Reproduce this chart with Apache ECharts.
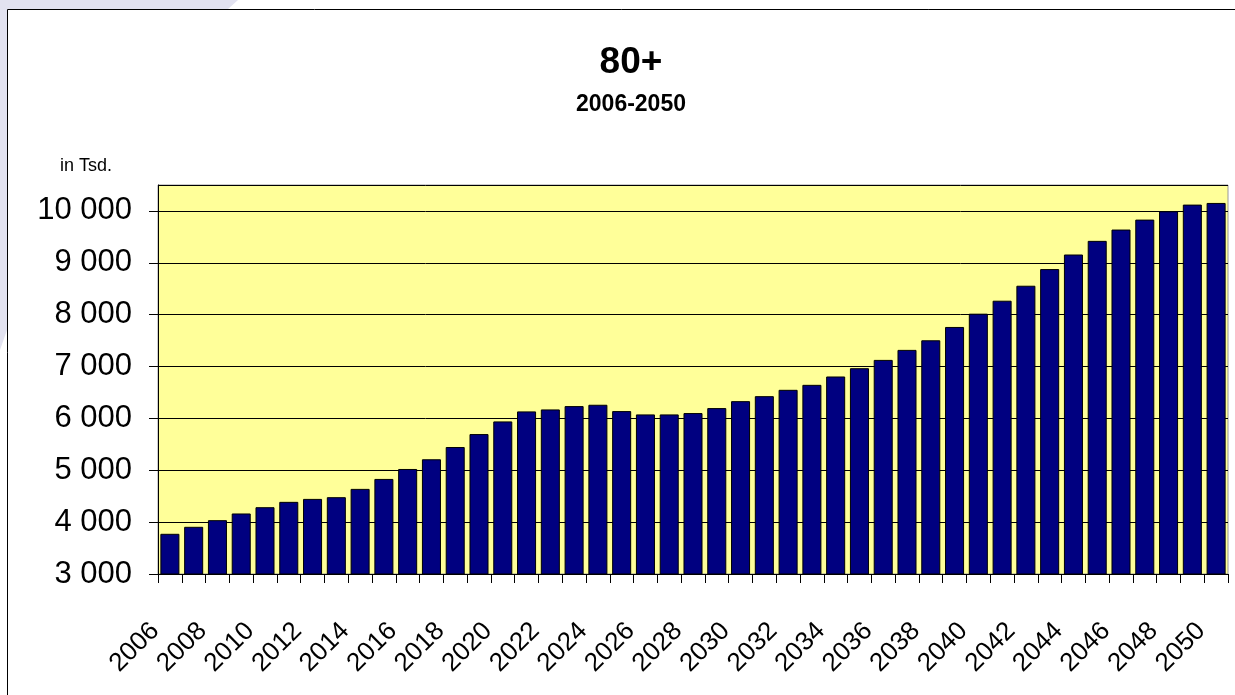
<!DOCTYPE html>
<html>
<head>
<meta charset="utf-8">
<title>80+ 2006-2050</title>
<script src="https://cdn.jsdelivr.net/npm/echarts@6/dist/echarts.min.js"></script>
<style>
  html, body { margin: 0; padding: 0; background: #ffffff; }
  #chart { width: 1235px; height: 695px; }
</style>
</head>
<body>
<div id="chart"></div>
<script>
// categories (years)
var years = [
  "2006", "2007", "2008", "2009", "2010", "2011", "2012", "2013", "2014", "2015",
  "2016", "2017", "2018", "2019", "2020", "2021", "2022", "2023", "2024", "2025",
  "2026", "2027", "2028", "2029", "2030", "2031", "2032", "2033", "2034", "2035",
  "2036", "2037", "2038", "2039", "2040", "2041", "2042", "2043", "2044", "2045",
  "2046", "2047", "2048", "2049", "2050"
];

// persons aged 80+, in thousands
var persons80 = [
  3775, 3910, 4038, 4167, 4288, 4391, 4448, 4481, 4641, 4833,
  5025, 5212, 5448, 5698, 5942, 6135, 6173, 6237, 6263, 6141,
  6077, 6077, 6103, 6199, 6333, 6429, 6551, 6647, 6808, 6968,
  7128, 7321, 7506, 7763, 8019, 8269, 8558, 8879, 9160, 9423,
  9641, 9833, 9994, 10122, 10154
];

var yMin = 3000;
var yMax = 10500;
var yStep = 1000;

var font = "'Liberation Sans', Arial, sans-serif";

function fmtThousands(v) {
  return String(v).replace(/\B(?=(\d{3})+(?!\d))/g, " ");
}

var myChart = echarts.init(document.getElementById("chart"));

var option = {
  backgroundColor: "#ffffff",
  animation: false,
  title: [
    {
      text: "80+",
      left: 626,
      top: 39,
      textAlign: "center",
      textStyle: { fontFamily: font, fontSize: 37, fontWeight: "bold", color: "#000000" }
    },
    {
      text: "2006-2050",
      left: 626,
      top: 88,
      textAlign: "center",
      textStyle: { fontFamily: font, fontSize: 23, fontWeight: "bold", color: "#000000" }
    }
  ],
  graphic: [
    // slide decoration behind the chart frame
    {
      type: "polygon",
      z: -10,
      shape: { points: [[0, 0], [238, 0], [228, 9], [7, 9], [7, 330], [0, 350]] },
      style: { fill: "#e2e2f0" }
    },
    {
      type: "rect",
      z: -5,
      shape: { x: 7.5, y: 9.5, width: 1240, height: 700 },
      style: { fill: "#ffffff", stroke: "#000000", lineWidth: 1 }
    },
    {
      type: "text",
      left: 60,
      top: 157,
      style: { text: "in Tsd.", fontFamily: font, fontSize: 18, fill: "#000000" }
    }
  ],
  grid: {
    left: 158,
    top: 185,
    right: 7,
    bottom: 121,
    show: true,
    backgroundColor: "#ffff99",
    borderColor: "#999999",
    borderWidth: 1
  },
  xAxis: {
    type: "category",
    data: years,
    boundaryGap: true,
    axisLine: { show: true, lineStyle: { color: "#000000", width: 1 } },
    axisTick: {
      show: true,
      interval: 0,
      alignWithLabel: false,
      length: 9,
      lineStyle: { color: "#000000" }
    },
    axisLabel: {
      interval: 1,
      rotate: 45,
      margin: 38,
      padding: [0, 21, 0, 0],
      fontFamily: font,
      fontSize: 26,
      color: "#000000"
    },
    splitLine: { show: false }
  },
  yAxis: {
    type: "value",
    min: yMin,
    max: yMax,
    interval: yStep,
    axisLine: { show: true, lineStyle: { color: "#000000", width: 1 } },
    axisTick: { show: true, length: 9, lineStyle: { color: "#000000" } },
    axisLabel: {
      showMaxLabel: false,
      margin: 26,
      fontFamily: font,
      fontSize: 31,
      color: "#000000",
      formatter: fmtThousands
    },
    splitLine: { show: true, lineStyle: { color: "#000000", width: 1 } }
  },
  series: [
    {
      name: "80+",
      type: "bar",
      data: persons80,
      barCategoryGap: "20%",
      itemStyle: {
        color: "#000080",
        borderColor: "#000000",
        borderWidth: 1
      }
    }
  ]
};

myChart.setOption(option);
</script>
</body>
</html>
